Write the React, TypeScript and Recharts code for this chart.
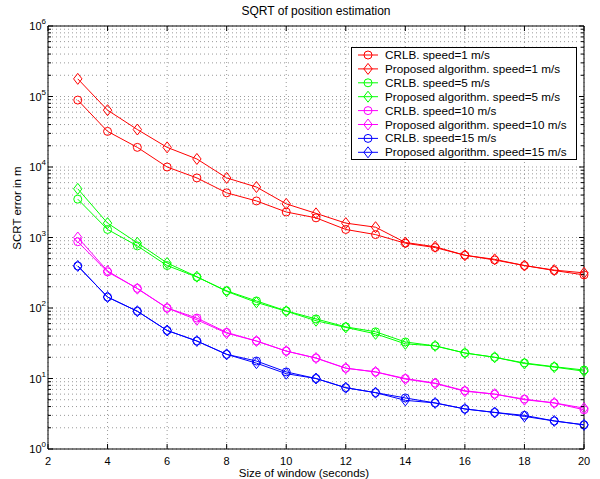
import React from "react";
import {
  CartesianGrid,
  Line,
  LineChart,
  ReferenceArea,
  XAxis,
  YAxis,
} from "recharts";

const windowSizes = [3, 4, 5, 6, 7, 8, 9, 10, 11, 12, 13, 14, 15, 16, 17, 18, 19, 20];

const crlb1 = [89000, 32000, 19000, 10000, 7000, 4300, 3300, 2300, 1900, 1300, 1100, 830, 720, 560, 480, 400, 340, 295];
const prop1 = [178000, 64000, 34000, 19000, 13000, 7000, 5200, 3000, 2200, 1600, 1400, 850, 740, 560, 490, 400, 345, 315];
const crlb5 = [3500, 1300, 760, 400, 275, 175, 126, 91, 70, 54, 46, 33, 29, 23, 20, 16.6, 14.7, 13.2];
const prop5 = [4900, 1600, 840, 435, 278, 172, 120, 90, 66, 53, 43, 31, 29, 23, 20, 16.3, 14.5, 12.7];
const crlb10 = [870, 325, 190, 100, 72, 45, 34, 24.5, 19.5, 14, 12.4, 10, 8.6, 6.7, 6.0, 5.1, 4.5, 3.6];
const prop10 = [1000, 335, 188, 100, 68, 44, 34, 24.5, 19.5, 14, 12.4, 9.8, 8.5, 6.6, 6.0, 5.0, 4.5, 3.8];
const crlb15 = [395, 143, 90, 48, 34, 22, 17.7, 12.4, 10, 7.4, 6.3, 5.3, 4.5, 3.7, 3.3, 3.0, 2.5, 2.2];
const prop15 = [395, 143, 90, 48, 34, 22, 16.5, 11.7, 10, 7.4, 6.3, 4.9, 4.5, 3.7, 3.3, 2.9, 2.5, 2.2];

const xTicks = [2, 4, 6, 8, 10, 12, 14, 16, 18, 20];
const decades = [1, 10, 100, 1000, 10000, 100000, 1000000];
const minorSteps = [2, 3, 4, 5, 6, 7, 8, 9];

const series = [
  { key: "crlb1", name: "CRLB. speed=1 m/s", color: "#ff0000", marker: "circle", values: crlb1 },
  { key: "prop1", name: "Proposed algorithm. speed=1 m/s", color: "#ff0000", marker: "diamond", values: prop1 },
  { key: "crlb5", name: "CRLB. speed=5 m/s", color: "#00ff00", marker: "circle", values: crlb5 },
  { key: "prop5", name: "Proposed algorithm. speed=5 m/s", color: "#00ff00", marker: "diamond", values: prop5 },
  { key: "crlb10", name: "CRLB. speed=10 m/s", color: "#ff00ff", marker: "circle", values: crlb10 },
  { key: "prop10", name: "Proposed algorithm. speed=10 m/s", color: "#ff00ff", marker: "diamond", values: prop10 },
  { key: "crlb15", name: "CRLB. speed=15 m/s", color: "#0000ff", marker: "circle", values: crlb15 },
  { key: "prop15", name: "Proposed algorithm. speed=15 m/s", color: "#0000ff", marker: "diamond", values: prop15 },
];

const data = windowSizes.map((x, i) => {
  const row: Record<string, number> = { x };
  series.forEach((s) => {
    row[s.key] = s.values[i];
  });
  return row;
});

const yTicks: number[] = [];
decades.forEach((d, i) => {
  yTicks.push(d);
  if (i < decades.length - 1) minorSteps.forEach((m) => yTicks.push(m * d));
});

// plot box in page pixels
const LEFT = 48;
const RIGHT = 584;
const TOP = 26;
const BOTTOM = 449;

const FONT = "'Liberation Sans', Arial, Helvetica, sans-serif";

function Marker({ type, cx, cy, color }: { type: string; cx: number; cy: number; color: string }) {
  if (cx == null || cy == null) return null;
  if (type === "diamond") {
    return (
      <path
        d={`M${cx},${cy - 5.5} L${cx + 4.2},${cy} L${cx},${cy + 5.5} L${cx - 4.2},${cy} Z`}
        fill="none"
        stroke={color}
        strokeWidth={1}
      />
    );
  }
  return <circle cx={cx} cy={cy} r={4} fill="none" stroke={color} strokeWidth={1} />;
}

function YTick(props: any) {
  const { y, payload } = props;
  const v = payload.value;
  const exp = Math.round(Math.log10(v));
  const isMajor = Math.abs(Math.log10(v) - exp) < 1e-9;
  const len = isMajor ? 5 : 3;
  return (
    <g>
      <line x1={LEFT} x2={LEFT + len} y1={y} y2={y} stroke="#000" />
      <line x1={RIGHT - len} x2={RIGHT} y1={y} y2={y} stroke="#000" />
      {isMajor && (
        <text x={46} y={y + 4} textAnchor="end" fontSize={11} fill="#000" fontFamily={FONT}>
          10
          <tspan dy={-6} fontSize={8}>
            {exp}
          </tspan>
        </text>
      )}
    </g>
  );
}

function XTick(props: any) {
  const { x, payload } = props;
  return (
    <g>
      <line x1={x} x2={x} y1={BOTTOM} y2={BOTTOM - 5} stroke="#000" />
      <line x1={x} x2={x} y1={TOP} y2={TOP + 5} stroke="#000" />
      <text x={x} y={465} textAnchor="middle" fontSize={11} fill="#000" fontFamily={FONT}>
        {payload.value}
      </text>
    </g>
  );
}

function LegendBox() {
  return (
    <div
      style={{
        position: "absolute",
        left: 351,
        top: 47,
        width: 224,
        height: 111,
        border: "1px solid #000",
        background: "#fff",
        fontFamily: FONT,
        fontSize: 11.5,
      }}
    >
      <svg width={224} height={111} style={{ position: "absolute", left: 0, top: 0 }}>
        {series.map((s, i) => {
          const cy = 7 + i * 13.9;
          return (
            <g key={s.key}>
              <line x1={6} x2={26} y1={cy} y2={cy} stroke={s.color} strokeWidth={1} />
              <Marker type={s.marker} cx={16} cy={cy} color={s.color} />
              <text x={33} y={cy + 4} fontSize={11.7} fontFamily={FONT} fill="#000">
                {s.name}
              </text>
            </g>
          );
        })}
      </svg>
    </div>
  );
}

export default function App() {
  return (
    <div style={{ position: "absolute", left: 0, top: 0, width: 600, height: 479, background: "#fff" }}>
      <LineChart
        width={600}
        height={479}
        data={data}
        margin={{ top: TOP, right: 600 - RIGHT, left: 0, bottom: 0 }}
      >
        <CartesianGrid stroke="#9a9a9a" strokeDasharray="1 3" />
        <XAxis
          dataKey="x"
          type="number"
          domain={[2, 20]}
          ticks={xTicks}
          height={479 - BOTTOM}
          axisLine={false}
          tickLine={false}
          tick={<XTick />}
          interval={0}
        />
        <YAxis
          type="number"
          scale="log"
          domain={[1, 1000000]}
          allowDataOverflow
          ticks={yTicks}
          width={LEFT}
          axisLine={false}
          tickLine={false}
          tick={<YTick />}
          interval={0}
        />
        <ReferenceArea x1={2} x2={20} y1={1} y2={1000000} fill="none" stroke="#000" strokeWidth={1} />
        {series.map((s) => (
          <Line
            key={s.key}
            dataKey={s.key}
            name={s.name}
            stroke={s.color}
            strokeWidth={1}
            type="linear"
            isAnimationActive={false}
            dot={(p: any) => <Marker key={`${s.key}-${p.index}`} type={s.marker} cx={p.cx} cy={p.cy} color={s.color} />}
            activeDot={false}
          />
        ))}
      </LineChart>
      <div
        style={{
          position: "absolute",
          left: 0,
          width: 632,
          top: 4,
          textAlign: "center",
          fontFamily: FONT,
          fontSize: 12,
          lineHeight: "14px",
        }}
      >
        SQRT of position estimation
      </div>
      <div
        style={{
          position: "absolute",
          left: 0,
          width: 608,
          top: 467,
          textAlign: "center",
          fontFamily: FONT,
          fontSize: 11.5,
          lineHeight: "12px",
        }}
      >
        Size of window (seconds)
      </div>
      <div
        style={{
          position: "absolute",
          left: 17,
          top: 208,
          transform: "translate(-50%, -50%) rotate(-90deg)",
          whiteSpace: "nowrap",
          fontFamily: FONT,
          fontSize: 11.5,
          lineHeight: "13px",
        }}
      >
        SCRT error in m
      </div>
      <LegendBox />
    </div>
  );
}
